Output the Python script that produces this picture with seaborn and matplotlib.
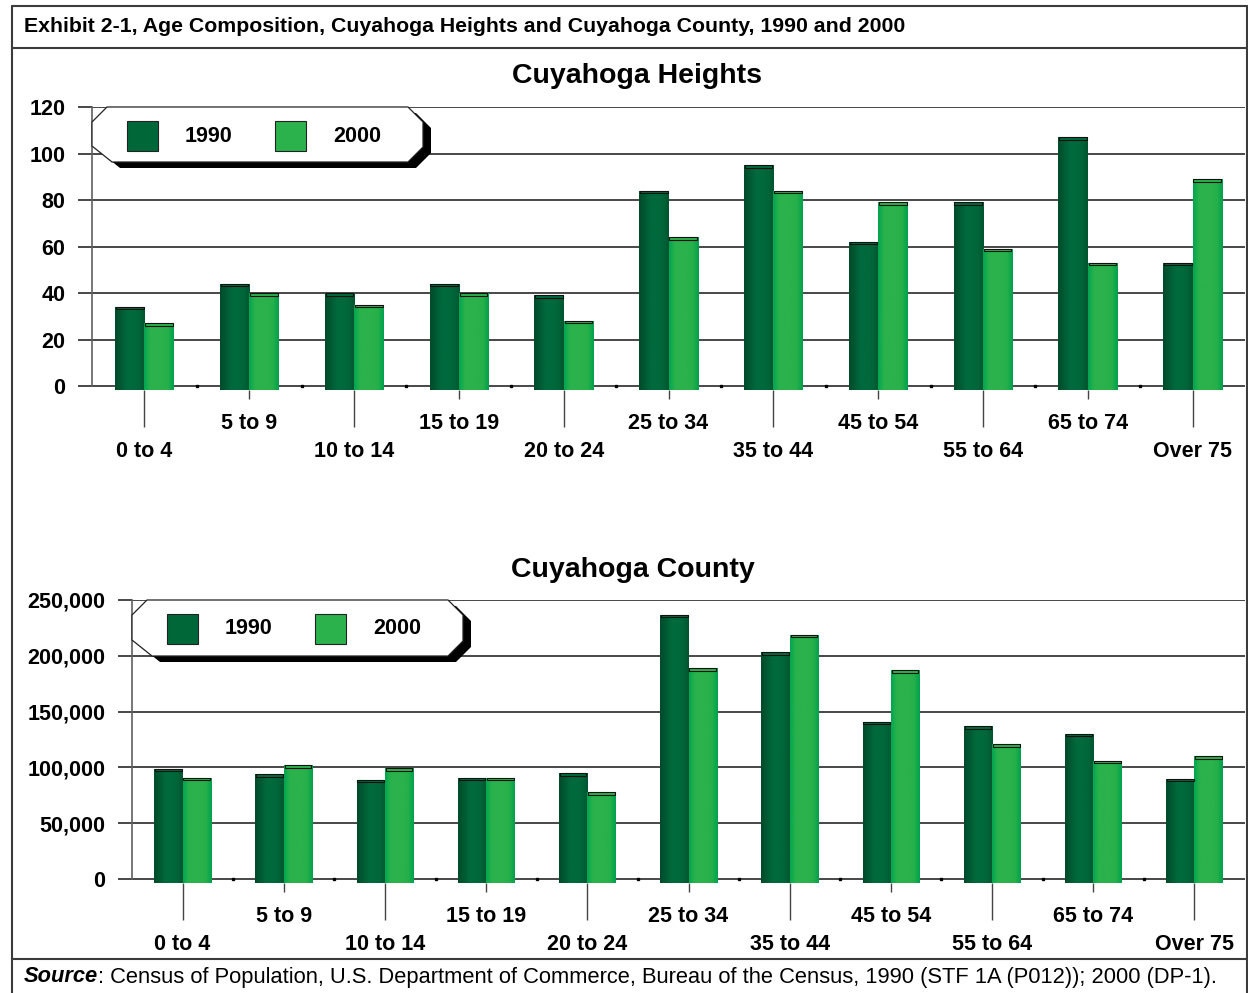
import numpy as np
import pandas as pd
import matplotlib
matplotlib.use("Agg")
import matplotlib.pyplot as plt
import seaborn as sns
from matplotlib.patches import Rectangle, Polygon
from matplotlib.lines import Line2D
from matplotlib.colors import LinearSegmentedColormap
from matplotlib.ticker import FuncFormatter

# ---- data -------------------------------------------------------------
age_groups = ["0 to 4", "5 to 9", "10 to 14", "15 to 19", "20 to 24",
              "25 to 34", "35 to 44", "45 to 54", "55 to 64", "65 to 74",
              "Over 75"]
years = ["1990", "2000"]

heights_1990 = [34, 44, 40, 44, 39, 84, 95, 62, 79, 107, 53]
heights_2000 = [27, 40, 35, 40, 28, 64, 84, 79, 59, 53, 89]

county_1990 = [99000, 94000, 89000, 91000, 95000, 237000, 203000,
               141000, 137000, 130000, 90000]
county_2000 = [91000, 102000, 99500, 91000, 78000, 189000, 219000,
               187000, 121000, 106000, 110000]

heights_ticks = [0, 20, 40, 60, 80, 100, 120]
county_ticks = [0, 50000, 100000, 150000, 200000, 250000]

# ---- styling ----------------------------------------------------------
year_colors = {"1990": "#006838", "2000": "#2bb24c"}
year_shading = {
    "1990": ["#004a2a", "#005a33", "#006a3d", "#006a3d", "#00663a", "#005530"],
    "2000": ["#00a651", "#2bb24c", "#2bb24c", "#2bb24c", "#26b04a", "#00a14e"],
}
grid_color = "#161616"
frame_color = "#3c3c3c"
label_size = 15.5

sns.set_theme(style="white")
plt.rcParams["font.family"] = ["Liberation Sans", "DejaVu Sans"]
plt.rcParams["text.color"] = "black"

W, H = 1248, 993
fig = plt.figure(figsize=(W / 100, H / 100), dpi=100)
fig.patch.set_facecolor("white")


def fx(x):
    return x / W


def fy(y):
    return 1 - y / H


def axes_rect(left, top, right, bottom):
    return [fx(left), fy(bottom), (right - left) / W, (bottom - top) / H]


def draw_panel(ax, v1990, v2000, ticks, floor, fmt, cap_px):
    df = pd.DataFrame({
        "Age": age_groups * 2,
        "Year": [years[0]] * len(age_groups) + [years[1]] * len(age_groups),
        "Population": list(v1990) + list(v2000),
    })
    sns.barplot(data=df, x="Age", y="Population", hue="Year",
                order=age_groups, hue_order=years, palette=year_colors,
                width=0.56, saturation=1, legend=False, linewidth=0,
                errorbar=None, ax=ax)
    ymax = ticks[-1]
    ax.set_ylim(floor, ymax)
    ax.set_xlim(-0.5, len(age_groups) - 0.5)

    # one pixel in data units, for the bar caps
    ax_h_px = ax.get_position().height * H
    cap_h = (ymax - floor) * cap_px / ax_h_px

    # shaded fill and a thin top face on each bar
    grad = np.linspace(0, 1, 128).reshape(1, -1)
    for container, year in zip(ax.containers, years):
        cmap = LinearSegmentedColormap.from_list(year, year_shading[year])
        for bar in container:
            x0, w, top = bar.get_x(), bar.get_width(), bar.get_height()
            bar.set_y(floor)
            bar.set_height(top - floor)
            bar.set_zorder(2)
            im = ax.imshow(grad, cmap=cmap, extent=[x0, x0 + w, floor, top],
                           aspect="auto", origin="lower",
                           interpolation="bilinear", zorder=2.1)
            im.set_clip_path(bar)
            ax.add_patch(Rectangle((x0 + 0.03 * w, top - cap_h), 0.94 * w,
                                   cap_h, facecolor=year_shading[year][2],
                                   edgecolor="#111111", linewidth=0.8,
                                   zorder=2.2))
    ax.set_ylim(floor, ymax)
    ax.set_xlim(-0.5, len(age_groups) - 0.5)

    # horizontal grid
    ax.set_yticks(ticks)
    ax.yaxis.set_major_formatter(FuncFormatter(fmt))
    ax.yaxis.grid(True, color=grid_color, linewidth=1.1)
    ax.xaxis.grid(False)
    ax.set_axisbelow(True)
    for side in ("top", "right", "bottom"):
        ax.spines[side].set_visible(False)
    ax.spines["left"].set_color("#606060")
    ax.spines["left"].set_linewidth(1.2)
    ax.spines["left"].set_bounds(0, ymax)
    ax.tick_params(axis="y", direction="out", length=10, width=1.1,
                   color=grid_color, pad=9, labelsize=label_size, left=True)

    # staggered category labels: even positions low, odd positions high
    idx = np.arange(len(age_groups))
    ax.set_xticks(idx[::2])
    ax.set_xticklabels(age_groups[::2])
    ax.set_xticks(idx[1::2], minor=True)
    ax.set_xticklabels(age_groups[1::2], minor=True)
    ax.tick_params(axis="x", which="major", direction="out", length=26.6,
                   width=1.0, color="#444444", pad=10, labelsize=label_size,
                   bottom=True)
    ax.tick_params(axis="x", which="minor", direction="out", length=6.6,
                   width=1.0, color="#444444", pad=10, labelsize=label_size,
                   bottom=True)
    for lab in ax.get_xticklabels(which="both") + ax.get_yticklabels():
        lab.set_fontweight("bold")
        lab.set_color("black")
    # small marks between categories on the base line
    ax.plot(idx[:-1] + 0.5, np.zeros(len(idx) - 1), linestyle="none",
            marker="s", markersize=2, color="black", zorder=1.5,
            clip_on=False)
    ax.set_xlabel("")
    ax.set_ylabel("")


def draw_legend(left, top, right, bottom):
    c = 15

    def octagon(dx, dy):
        pts = [(left + dx, top + c + dy), (left + c + dx, top + dy),
               (right - c + dx, top + dy), (right + dx, top + c + dy),
               (right + dx, bottom - c + dy), (right - c + dx, bottom + dy),
               (left + 20 + dx, bottom + dy), (left + dx, bottom - 16 + dy)]
        return [(fx(x), fy(y)) for x, y in pts]

    fig.add_artist(Polygon(octagon(8, 6), closed=True, facecolor="black",
                           edgecolor="none", transform=fig.transFigure,
                           zorder=5))
    fig.add_artist(Polygon(octagon(0, 0), closed=True, facecolor="white",
                           edgecolor="#222222", linewidth=0.9,
                           transform=fig.transFigure, zorder=6))
    for k, year in enumerate(years):
        px0 = left + 35 + 148 * k
        fig.add_artist(Rectangle((fx(px0), fy(top + 44)), 31 / W, 30 / H,
                                 facecolor=year_colors[year],
                                 edgecolor="#222222", linewidth=0.8,
                                 transform=fig.transFigure, zorder=7))
        fig.text(fx(px0 + 58), fy(top + 29), year, fontsize=label_size,
                 fontweight="bold", ha="left", va="center", zorder=7)


# ---- panels -----------------------------------------------------------
ax1 = fig.add_axes(axes_rect(92, 107, 1245, 390))
draw_panel(ax1, heights_1990, heights_2000, heights_ticks, -1.7,
           lambda v, p: f"{v:.0f}", 2.5)

ax2 = fig.add_axes(axes_rect(132, 600, 1245, 883))
draw_panel(ax2, county_1990, county_2000, county_ticks, -3500,
           lambda v, p: f"{v:,.0f}", 2.5)

draw_legend(92, 107, 423, 162)
draw_legend(132, 600, 463, 656)

fig.text(fx(637), fy(76), "Cuyahoga Heights", fontsize=20.5,
         fontweight="bold", ha="center", va="center")
fig.text(fx(633), fy(570), "Cuyahoga County", fontsize=20.5,
         fontweight="bold", ha="center", va="center")

# ---- exhibit frame, header and source ---------------------------------
frame = dict(color=frame_color, linewidth=1.5, transform=fig.transFigure,
             zorder=10)
fig.add_artist(Line2D([fx(12), fx(12)], [fy(6), fy(H + 5)], **frame))
fig.add_artist(Line2D([fx(1247), fx(1247)], [fy(6), fy(H + 5)], **frame))
fig.add_artist(Line2D([fx(12), fx(1247)], [fy(6), fy(6)], **frame))
fig.add_artist(Line2D([fx(12), fx(1247)], [fy(48), fy(48)], **frame))
fig.add_artist(Line2D([fx(12), fx(1247)], [fy(959), fy(959)], **frame))

fig.text(fx(24), fy(27), "Exhibit 2-1, Age Composition, Cuyahoga Heights "
         "and Cuyahoga County, 1990 and 2000", fontsize=15.3,
         fontweight="bold", ha="left", va="center")

src = fig.text(fx(24), fy(977), "Source", fontsize=15.75, fontweight="bold",
               fontstyle="italic", ha="left", va="center")
fig.canvas.draw()
src_end = src.get_window_extent(renderer=fig.canvas.get_renderer()).x1
fig.text(src_end / W, fy(977), ": Census of Population, U.S. Department of "
         "Commerce, Bureau of the Census, 1990 (STF 1A (P012)); 2000 (DP-1).",
         fontsize=15.75, ha="left", va="center")

fig.savefig("out.png", dpi=100)
